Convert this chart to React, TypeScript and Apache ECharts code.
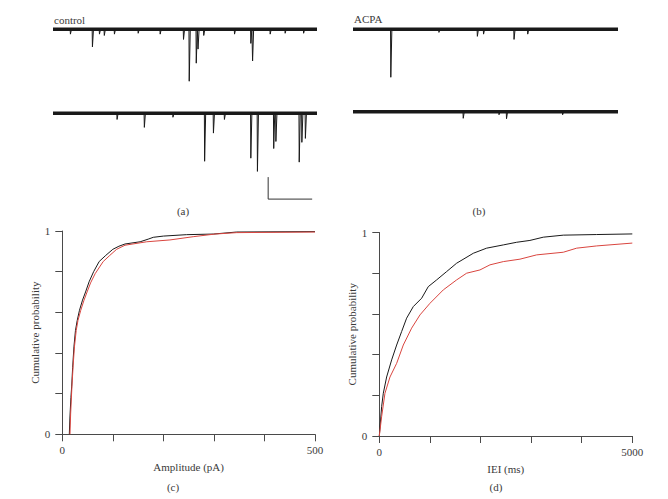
import React, { useEffect, useRef } from "react";
import * as echarts from "echarts";

// ---- trace data (time in s, event amplitude in pA) ----
const traceSpan = 6;
const controlTop_t = [0.39, 0.89, 1.05, 1.16, 1.39, 1.93, 2.43, 2.96, 3.09, 3.25, 3.29, 3.42, 4.12, 4.49, 4.53, 4.93, 5.27, 5.69];
const controlTop_amp = [11, 40, 11, 14, 11, 9, 11, 23, 118, 77, 45, 14, 11, 32, 72, 11, 9, 9];
const controlBottom_t = [1.45, 2.07, 2.72, 3.44, 3.64, 3.89, 4.49, 4.64, 5.01, 5.06, 5.59, 5.65, 5.73];
const controlBottom_amp = [14, 32, 9, 109, 45, 14, 102, 132, 80, 64, 111, 66, 57];
const acpaTop_t = [0.85, 1.94, 2.81, 2.95, 3.64, 3.95];
const acpaTop_amp = [109, 7, 16, 11, 23, 11];
const acpaBottom_t = [2.49, 3.3, 3.47, 4.74];
const acpaBottom_amp = [15, 7, 16, 7];
// scale bar: 1 s, 50 pA
const scaleBarOrigin = [4.89, -195];
const scaleBarTime = 1;
const scaleBarAmp = 50;

// ---- cumulative distributions ----
const ampControl = [[13.9, 0], [15, 0.08], [17, 0.18], [18.5, 0.233], [20.5, 0.33], [23, 0.43], [26, 0.51], [29.5, 0.56], [34, 0.61], [40, 0.66], [46, 0.7], [53, 0.75], [62, 0.8], [73, 0.85], [86, 0.88], [100, 0.91], [112, 0.925], [124, 0.936], [154, 0.947], [170, 0.96], [180, 0.969], [200, 0.975], [246, 0.982], [299, 0.985], [345, 0.995], [500, 0.997]];
const ampACPA = [[15.2, 0], [16.5, 0.1], [19, 0.233], [21.5, 0.34], [24, 0.43], [27.5, 0.51], [31, 0.56], [36.5, 0.61], [43, 0.66], [49, 0.7], [56, 0.745], [65, 0.79], [81, 0.85], [94, 0.88], [107.5, 0.91], [124, 0.93], [167, 0.947], [213, 0.956], [259, 0.972], [302, 0.985], [345, 0.992], [500, 0.995]];
const ieiControl = [[0, 0], [46, 0.144], [79, 0.21], [145, 0.29], [244, 0.374], [343, 0.447], [441, 0.513], [540, 0.579], [672, 0.636], [837, 0.677], [968, 0.734], [1133, 0.767], [1331, 0.808], [1528, 0.849], [1858, 0.898], [2121, 0.923], [2451, 0.939], [2714, 0.952], [2977, 0.961], [3241, 0.977], [3636, 0.987], [4295, 0.99], [5000, 0.993]];
const ieiACPA = [[0, 0], [46, 0.095], [112, 0.21], [211, 0.29], [343, 0.357], [474, 0.447], [639, 0.53], [804, 0.595], [1001, 0.652], [1265, 0.718], [1528, 0.767], [1726, 0.8], [1989, 0.816], [2187, 0.841], [2451, 0.857], [2780, 0.869], [3109, 0.89], [3636, 0.903], [3900, 0.923], [4295, 0.934], [5000, 0.948]];

const FONT = "'Liberation Serif', 'DejaVu Serif', serif";
const TXT = "#3a3a3a";
const AX = "#4a4a4a";
const RED = "#d9453f";
const BLK = "#1a1a1a";

function traceData(times: number[], amps: number[]) {
  const ev = times.map((t, i) => [t, amps[i]]).sort((a, b) => a[0] - b[0]);
  const out: number[][] = [[0, 0]];
  ev.forEach(([t, a]) => {
    out.push([t, 0], [t + 0.006, -a], [t + 0.03, 0]);
  });
  out.push([traceSpan, 0]);
  return out;
}

export default function App() {
  const ref = useRef<HTMLDivElement>(null);
  useEffect(() => {
    const chart = echarts.init(ref.current!, null, { renderer: "svg" });
    const traceGrids = [
      { left: 53, top: 24.9, width: 264, height: 92.4 },
      { left: 53, top: 108.9, width: 264, height: 92.4 },
      { left: 353, top: 24.9, width: 265, height: 92.4 },
      { left: 353, top: 107.3, width: 265, height: 92.4 },
    ];
    const traces = [
      [controlTop_t, controlTop_amp],
      [controlBottom_t, controlBottom_amp],
      [acpaTop_t, acpaTop_amp],
      [acpaBottom_t, acpaBottom_amp],
    ];
    const cdfAxisX = (max: number, interval: number, name: string) => ({
      type: "value",
      min: 0,
      max,
      interval,
      name,
      nameLocation: "middle",
      nameGap: 27,
      nameTextStyle: { fontFamily: FONT, fontSize: 11, color: TXT },
      axisLine: { show: true, lineStyle: { color: AX, width: 1 } },
      axisTick: { show: true, length: 7, lineStyle: { color: AX } },
      axisLabel: {
        margin: 10,
        fontFamily: FONT,
        fontSize: 11,
        color: TXT,
        formatter: (v: number) => (v === 0 || v === max ? String(v) : ""),
      },
      splitLine: { show: false },
    });
    const cdfAxisY = () => ({
      type: "value",
      min: 0,
      max: 1,
      interval: 0.2,
      name: "Cumulative probability",
      nameLocation: "middle",
      nameGap: 21,
      nameTextStyle: { fontFamily: FONT, fontSize: 11, color: TXT },
      axisLine: { show: true, lineStyle: { color: AX, width: 1 } },
      axisTick: { show: true, length: 7, lineStyle: { color: AX } },
      axisLabel: {
        margin: 12,
        fontFamily: FONT,
        fontSize: 11,
        color: TXT,
        formatter: (v: number) => (v === 0 || v === 1 ? String(v) : ""),
      },
      splitLine: { show: false },
    });

    const xAxes: any[] = traceGrids.map((_, i) => ({
      type: "value", gridIndex: i, min: 0, max: traceSpan, show: false,
    }));
    const yAxes: any[] = traceGrids.map((_, i) => ({
      type: "value", gridIndex: i, min: -200, max: 10, show: false,
    }));
    xAxes.push({ ...cdfAxisX(500, 100, "Amplitude (pA)"), gridIndex: 4 });
    xAxes.push({ ...cdfAxisX(5000, 1000, "IEI (ms)"), gridIndex: 5 });
    yAxes.push({ ...cdfAxisY(), gridIndex: 4 });
    yAxes.push({ ...cdfAxisY(), gridIndex: 5 });

    const series: any[] = [];
    traces.forEach(([t, a], i) => {
      series.push({
        type: "line", xAxisIndex: i, yAxisIndex: i, showSymbol: false, silent: true,
        data: [[0, 0], [traceSpan, 0]],
        lineStyle: { color: BLK, width: 3.4 },
      });
      series.push({
        type: "line", xAxisIndex: i, yAxisIndex: i, showSymbol: false, silent: true,
        data: traceData(t as number[], a as number[]),
        lineStyle: { color: BLK, width: 1 },
      });
    });
    series.push({
      type: "line", xAxisIndex: 1, yAxisIndex: 1, showSymbol: false, silent: true,
      data: [
        [scaleBarOrigin[0], scaleBarOrigin[1] + scaleBarAmp],
        [scaleBarOrigin[0], scaleBarOrigin[1]],
        [scaleBarOrigin[0] + scaleBarTime, scaleBarOrigin[1]],
      ],
      lineStyle: { color: "#333", width: 1 },
    });
    const cdf = (data: number[][], color: string, idx: number) => ({
      type: "line", xAxisIndex: idx, yAxisIndex: idx, showSymbol: false, silent: true,
      data, lineStyle: { color, width: 1 },
    });
    series.push(cdf(ampControl, BLK, 4), cdf(ampACPA, RED, 4));
    series.push(cdf(ieiControl, BLK, 5), cdf(ieiACPA, RED, 5));

    const label = (text: string, x: number, y: number, align = "center") => ({
      type: "text", x, y,
      style: { text, fontFamily: FONT, fontSize: 11, fill: TXT, align, verticalAlign: "middle" },
    });

    chart.setOption({
      animation: false,
      backgroundColor: "#ffffff",
      grid: [
        ...traceGrids,
        { left: 62.3, top: 231, width: 252.7, height: 203.3 },
        { left: 379.3, top: 232.5, width: 253, height: 203.5 },
      ],
      xAxis: xAxes,
      yAxis: yAxes,
      series,
      graphic: [
        label("control", 54, 20, "left"),
        label("ACPA", 354, 19, "left"),
        label("(a)", 183, 211),
        label("(b)", 479, 211),
        label("(c)", 173, 487),
        label("(d)", 496, 487),
      ],
    });
    return () => chart.dispose();
  }, []);
  return (
    <div
      ref={ref}
      style={{ position: "fixed", left: 0, top: 0, width: 668, height: 499 }}
    />
  );
}
